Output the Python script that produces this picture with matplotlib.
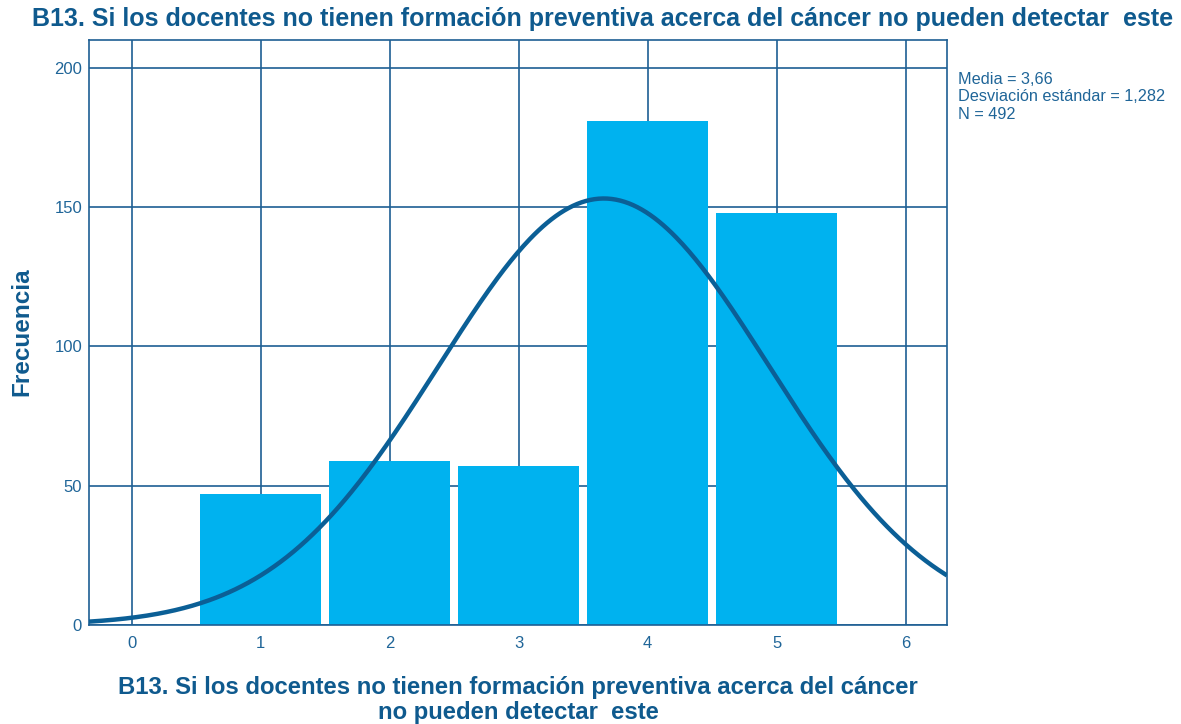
import matplotlib.pyplot as plt
import numpy as np

# Histogram of B13 responses
categories = [1, 2, 3, 4, 5]
counts = [47, 59, 57, 181, 148]
media = 3.66
desv = 1.282
n = 492

title = "B13. Si los docentes no tienen formación preventiva acerca del cáncer no pueden detectar  este"
xlabel = "B13. Si los docentes no tienen formación preventiva acerca del cáncer\nno pueden detectar  este"

bar_color = "#00b2ef"
line_color = "#0b5f96"
grid_color = "#1e5f94"
text_color = "#0f5a8e"

plt.rcParams['font.family'] = ['Liberation Sans', 'DejaVu Sans']

fig = plt.figure(figsize=(11.81, 7.24), dpi=100)
W, H = 1181, 724
ax = fig.add_axes([89 / W, 99 / H, 858 / W, 585 / H])

ax.set_axisbelow(True)
ax.grid(True, color=grid_color, linewidth=1.2)
ax.bar(categories, counts, width=0.94, color=bar_color, zorder=2)

# normal curve from the stats shown
xs = np.linspace(-0.33, 6.32, 400)
ys = n * np.exp(-0.5 * ((xs - media) / desv) ** 2) / (desv * np.sqrt(2 * np.pi))
ax.plot(xs, ys, color=line_color, linewidth=3.2, zorder=3, solid_capstyle='butt')

ax.set_xlim(-0.33, 6.32)
ax.set_ylim(0, 210)
ax.set_xticks(range(0, 7))
ax.set_yticks([0, 50, 100, 150, 200])
ax.tick_params(colors="#1f6598", labelsize=12, length=0)
ax.tick_params(axis='y', pad=5)
ax.tick_params(axis='x', pad=8)
for s in ax.spines.values():
    s.set_color(grid_color)
    s.set_linewidth(1.2)

fig.text(22 / W, 1 - 332 / H, "Frecuencia", rotation=90, ha='center', va='center',
         fontsize=17.5, fontweight='bold', color=text_color)
fig.text(518 / W, 1 - 700 / H, xlabel, ha='center', va='center', fontsize=17.2,
         fontweight='bold', color=text_color, linespacing=1.1)

fig.text(603 / W, 1 - 19 / H, title, ha='center', va='center', fontsize=18,
         fontweight='bold', color=text_color)

fig.text(958 / W, 1 - 72 / H,
         "Media = 3,66\nDesviación estándar = 1,282\nN = 492",
         ha='left', va='top', fontsize=11.7, color="#1f6598", linespacing=1.2)

fig.savefig("out.png", dpi=100)
